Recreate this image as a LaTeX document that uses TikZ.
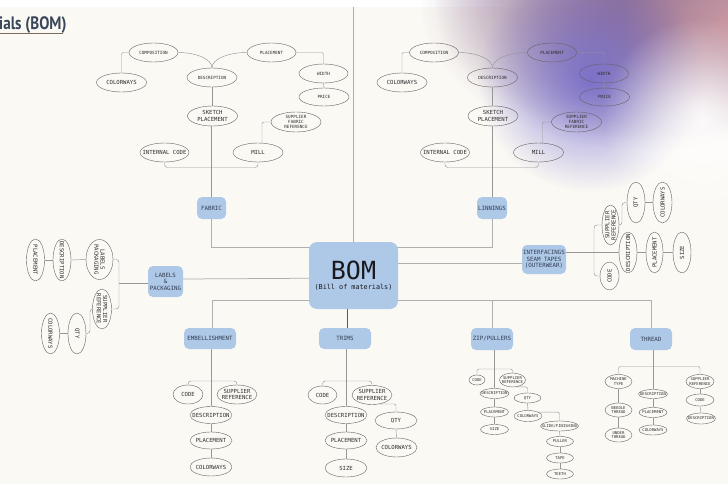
\documentclass[tikz,border=0pt]{standalone}
\usepackage{fontspec}
\setmainfont{PT Sans}
\newfontfamily\monof{DejaVu Sans Mono}
\usetikzlibrary{shapes.geometric,fadings}
\tikzfading[name=blobfade, inner color=transparent!0, outer color=transparent!100]
\pgfdeclarelayer{bgl}
\pgfdeclarelayer{edges}
\pgfsetlayers{bgl,edges,main}
\definecolor{bg}{RGB}{251,249,244}
\definecolor{boxc}{RGB}{174,200,232}
\definecolor{boxt}{RGB}{50,62,80}
\definecolor{bomt}{RGB}{25,25,30}
\definecolor{lnc}{RGB}{175,175,175}
\definecolor{subc}{RGB}{150,150,150}
\definecolor{elc}{RGB}{100,100,100}
\definecolor{etx}{RGB}{45,45,45}
\definecolor{titlec}{RGB}{58,70,90}
\definecolor{ulc}{RGB}{120,108,95}
\definecolor{mauve}{RGB}{145,115,150}
\definecolor{pinkc}{RGB}{200,150,160}
\definecolor{bluec}{RGB}{108,100,205}
\newcommand\fsA{\monof\fontsize{5.6}{6.3}\selectfont}
\newcommand\fsB{\monof\fontsize{4.3}{4.8}\selectfont}
\newcommand\fsC{\monof\fontsize{3.9}{4.4}\selectfont}
\newcommand\fsK{\monof\fontsize{5.8}{6.6}\selectfont}
\tikzset{
  cat/.style={fill=boxc, rounded corners=5pt, inner sep=0pt, align=center, text=boxt, font=\fsK},
  ov/.style={ellipse, draw=elc, line width=0.4pt, inner sep=0pt},
  lb/.style={align=center, text=etx, inner sep=0pt},
  mainln/.style={draw=lnc, line width=0.75pt},
  sub/.style={draw=subc, line width=0.45pt, rounded corners=2pt},
}
\newcommand\EL[6]{\node[ov, minimum width=#3, minimum height=#4, label={[lb,font=#6]center:{#5}}] (#1) at (#2) {};}
\newcommand\ELR[7]{\node[ov, minimum width=#3, minimum height=#4, label={[lb,font=#6,rotate=#7]center:{#5}}] (#1) at (#2) {};}
\newcommand\fabtree[3]{%
\begin{scope}[xshift=#2]
\EL{#1comp}{153.5,52.5}{49}{19}{COMPOSITION}{\fsB}
\EL{#1plac}{271.5,52.5}{49}{19}{PLACEMENT}{\fsB}
\EL{#1colw}{121.5,82.5}{50}{19}{COLORWAYS}{\fsA}
\EL{#1desc}{212,77.5}{50}{19}{DESCRIPTION}{\fsB}
\EL{#1wid}{323.5,73.5}{49}{19}{WIDTH}{\fsB}
\EL{#1pri}{324,97}{50}{18}{PRICE}{\fsB}
\EL{#1sk}{212.5,116}{50}{20}{SKETCH\\PLACEMENT}{\fsA}
\EL{#1sup}{296,122}{50}{20}{SUPPLIER\\FABRIC\\REFERENCE}{\fsB}
\EL{#1ic}{164.5,152.5}{49}{19}{INTERNAL CODE}{\fsA}
\EL{#1mill}{258,152.5}{50}{19}{MILL}{\fsA}
\begin{pgfonlayer}{edges}
\draw[sub] (#3.north) -- (#3.north |- #1sk.south);
\draw[sub] (#1desc.south) -- (#1desc.south |- #1sk.north);
\draw[sub, rounded corners=3pt] (#1ic.south) |- (212,167.5) -| (#1mill.south);
\draw[sub] ([xshift=4pt]#1mill.north) |- (#1sup.west);
\draw[sub] (#1desc.north) .. controls (212,59) and (196,52.5) .. (#1comp.east);
\draw[sub] (#1desc.north) .. controls (212,59) and (228,52.5) .. (#1plac.west);
\draw[sub] (#1comp.west) -| (#1colw.north);
\draw[sub] (#1plac.east) -| (#1wid.north);
\draw[sub] (#1wid.south) -- (#1pri.north);
\end{pgfonlayer}
\end{scope}}
\begin{document}
\begin{tikzpicture}[x=1pt,y=-1pt]
\useasboundingbox (0,0) rectangle (728,484);
\begin{pgfonlayer}{bgl}
  \fill[bg] (0,0) rectangle (728,484);
  \fill[white] (0,0) rectangle (728,7);
  \begin{scope}
    \clip (0,0) rectangle (728,484);
    \fill[mauve, path fading=blobfade] (650,0) ellipse (230 and 150);
    \fill[mauve, path fading=blobfade] (655,0) ellipse (220 and 140);
    \fill[pinkc, path fading=blobfade] (728,25) circle (110);
    \fill[bluec, path fading=blobfade, opacity=0.8] (590,80) circle (112);
    \fill[white, path fading=blobfade, opacity=0.9] (702,118) circle (100);
  \end{scope}
\end{pgfonlayer}

% title
\node[anchor=base west, inner sep=0pt, text=titlec, font=\fontsize{18}{18}\selectfont\bfseries] (title) at (-1,30) {\scalebox{0.84}[1]{ials (BOM)}};
\draw[ulc, line width=1.1pt] (0,33.3) -- (63,33.3);

% category boxes
\node[cat, rounded corners=8pt, minimum width=89, minimum height=67] (bom) at (353.5,275.5) {};
\node[inner sep=0pt, align=center, text=bomt, font=\monof\fontsize{6.8}{9.7}\selectfont] (bomtitle) at (353.5,275.8) {{\fontsize{25}{25}\selectfont BOM}\\(Bill of materials)};
\node[cat, minimum width=29, minimum height=22] (fab) at (211.5,208) {FABRIC};
\node[cat, minimum width=30, minimum height=22] (lin) at (492,208) {LINNINGS};
\node[cat, minimum width=35, minimum height=31] (lab) at (165.5,281.5) {LABELS\\\&\\PACKAGING};
\node[cat, minimum width=44, minimum height=29] (int) at (544,259.5) {INTERFACINGS\\SEAM TAPES\\(OUTERWEAR)};
\node[cat, minimum width=52, minimum height=21] (emb) at (210,338.5) {EMBELLISHMENT};
\node[cat, minimum width=52, minimum height=21] (trm) at (345,338.5) {TRIMS};
\node[cat, minimum width=42, minimum height=22] (zip) at (492,339) {ZIP/PULLERS};
\node[cat, minimum width=42, minimum height=22] (thr) at (651,339) {THREAD};
\coordinate (topend) at (354,7);

\begin{pgfonlayer}{edges}
  \draw[mainln] (bom.north) -- (bom.north |- topend);
  \draw[mainln] (fab.south) |- (bom.center |- 0,247);
  \draw[mainln] (lin.south) |- (bom.center |- 0,247);
  \draw[mainln] (lab.east |- 0,279) -- (bom.center |- 0,278);
  \draw[mainln] (bom.center |- 0,263) -- (int.west |- 0,263);
  \draw[mainln] ([xshift=2pt]emb.north) |- (thr.north |- 0,300) -- (thr.north);
  \draw[mainln] (zip.north) -- (zip.north |- 0,300);
  \draw[draw=black!65, line width=0.75pt] ([xshift=2pt]trm.north) -- ([xshift=2pt]trm.north |- bom.south);
\end{pgfonlayer}

% fabric and linnings trees
\fabtree{f}{0}{fab}
\fabtree{l}{280.5}{lin}

% labels & packaging
\ELR{lp}{99.5,259.5}{27}{40}{LABELS\\PACKAGING}{\fsA}{-90}
\ELR{ld}{62,260}{18}{42}{DESCRIPTION}{\fsA}{-90}
\ELR{lpl}{35.5,260}{18}{42}{PLACEMENT}{\fsA}{-90}
\ELR{lsr}{102,309}{19}{40}{SUPPLIER\\REFERENCE}{\fsA}{-90}
\ELR{lq}{77,333.5}{18}{41}{QTY}{\fsA}{-90}
\ELR{lc}{50.5,333.5}{18}{41}{COLORWAYS}{\fsA}{-90}
\coordinate (lbr) at (119,283);
\begin{pgfonlayer}{edges}
  \draw[sub] (lab.west |- lbr) -- (lbr);
  \draw[sub, rounded corners=3pt] (lp.east) -| (lbr) |- (lsr.east);
  \draw[sub] (lp.west) -- (ld.east);
  \draw[sub] (ld.west) -- (lpl.east);
  \draw[sub, rounded corners=3pt] (lsr.west) -| (90,333.5) -- (lq.east);
  \draw[sub] (lq.west) -- (lc.east);
\end{pgfonlayer}

% interfacings
\ELR{is}{610.5,225}{17}{40}{SUPPLIER\\REFERENCE}{\fsA}{90}
\ELR{iq}{636,202.5}{18}{41}{QTY}{\fsA}{90}
\ELR{ic}{662.5,202.5}{19}{41}{COLORWAYS}{\fsA}{90}
\ELR{id}{628,252.5}{18}{41}{DESCRIPTION}{\fsA}{90}
\ELR{ip}{654.5,252.5}{17}{41}{PLACEMENT}{\fsA}{90}
\ELR{isz}{682,252.5}{18}{41}{SIZE}{\fsA}{90}
\ELR{ico}{609.5,276}{19}{28}{CODE}{\fsA}{90}
\coordinate (ibr) at (594,252.5);
\begin{pgfonlayer}{edges}
  \draw[sub] (int.east |- ibr) -- (id.west);
  \draw[sub, rounded corners=3pt] (is.west) -| (ibr) |- (ico.west);
  \draw[sub] (id.east) -- (ip.west);
  \draw[sub] (ip.east) -- (isz.west);
  \draw[sub, rounded corners=3pt] (is.east) -| (622,202.5) -- (iq.west);
  \draw[sub] (iq.east) -- (ic.west);
\end{pgfonlayer}

% embellishment
\EL{ec}{188,394.5}{30}{19}{CODE}{\fsA}
\EL{es}{237,394.5}{40}{19}{SUPPLIER\\REFERENCE}{\fsA}
\EL{ed}{211,415}{42}{17}{DESCRIPTION}{\fsA}
\EL{ep}{211,440.5}{42}{17}{PLACEMENT}{\fsA}
\EL{ecw}{211,467}{42}{18}{COLORWAYS}{\fsA}
\begin{pgfonlayer}{edges}
  \draw[sub] (emb.south -| ed.north) -- (ed.north);
  \draw[sub, rounded corners=3pt] (ec.north) |- (211,381) -| (es.north);
  \draw[sub] (ed.south) -- (ep.north);
  \draw[sub] (ep.south) -- (ecw.north);
\end{pgfonlayer}

% trims
\EL{tc}{322.5,395}{29}{18}{CODE}{\fsA}
\EL{ts}{372,395}{40}{19}{SUPPLIER\\REFERENCE}{\fsA}
\EL{td}{346,415}{42}{17}{DESCRIPTION}{\fsA}
\EL{tp}{346,440.5}{42}{17}{PLACEMENT}{\fsA}
\EL{tsz}{346,468}{42}{18}{SIZE}{\fsA}
\EL{tq}{396,420.5}{42}{17}{QTY}{\fsA}
\EL{tcw}{396.5,447.5}{41}{19}{COLORWAYS}{\fsA}
\begin{pgfonlayer}{edges}
  \draw[sub] (trm.south -| td.north) -- (td.north);
  \draw[sub, rounded corners=3pt] (tc.north) |- (346,381) -| (ts.north);
  \draw[sub] (td.south) -- (tp.north);
  \draw[sub] (tp.south) -- (tsz.north);
  \draw[sub] (ts.-50) -| (tq.north);
  \draw[sub] (tq.south) -- (tcw.north);
\end{pgfonlayer}

% zip/pullers
\EL{zc}{477,380}{16}{10}{CODE}{\fsC}
\EL{zs}{512.5,380}{26}{14}{SUPPLIER\\REFERENCE}{\fsC}
\EL{zd}{494.5,393.5}{29}{10}{DESCRIPTION}{\fsC}
\EL{zp}{494.5,412}{28}{10}{PLACEMENT}{\fsC}
\EL{zsz}{494.5,429.5}{28}{10}{SIZE}{\fsC}
\EL{zq}{527.5,398}{27}{10}{QTY}{\fsC}
\EL{zcw}{528,416}{28}{11}{COLORWAYS}{\fsC}
\EL{zsf}{559.5,426}{38}{10}{SLIDE/FINISHING}{\fsC}
\EL{zpu}{560,441.5}{27}{10}{PULLER}{\fsC}
\EL{zt}{560,458}{27}{10}{TAPE}{\fsC}
\EL{zte}{560,474}{27}{10}{TEETH}{\fsC}
\begin{pgfonlayer}{edges}
  \draw[sub] (zip.south -| zd.north) -- (zd.north);
  \draw[sub, rounded corners=2pt] (zc.north) |- (494.5,369) -| (zs.north);
  \draw[sub] (zd.south) -- (zp.north);
  \draw[sub] (zp.south) -- (zsz.north);
  \draw[sub] (zs.-60) -| (zq.north);
  \draw[sub] (zq.south) -- (zcw.north);
  \draw[sub] (zcw.20) -| (zsf.north);
  \draw[sub] (zsf.south) -- (zpu.north);
  \draw[sub] (zpu.south) -- (zt.north);
  \draw[sub] (zt.south) -- (zte.north);
\end{pgfonlayer}

% thread
\EL{hm}{618.5,381.5}{27}{14}{MACHINE\\TYPE}{\fsC}
\EL{hn}{618.5,410}{27}{14}{NEEDLE\\THREAD}{\fsC}
\EL{hu}{618.5,435}{27}{14}{UNDER\\THREAD}{\fsC}
\EL{hd}{653,394}{29}{9}{DESCRIPTION}{\fsC}
\EL{hp}{653,412.5}{28}{10}{PLACEMENT}{\fsC}
\EL{hc}{653,430}{28}{10}{COLORWAYS}{\fsC}
\EL{hs}{700,381.5}{28}{14}{SUPPLIER\\REFERENCE}{\fsC}
\EL{hco}{700,400}{28}{12}{CODE}{\fsC}
\EL{hd2}{701,418.5}{29}{11}{DESCRIPTION}{\fsC}
\begin{pgfonlayer}{edges}
  \draw[sub] (thr.south -| hd.north) -- (hd.north);
  \draw[sub, rounded corners=2pt] (hm.north) |- (653,366.5) -| (hs.north);
  \draw[sub] (hd.south) -- (hp.north);
  \draw[sub] (hp.south) -- (hc.north);
  \draw[sub] (hm.south) -- (hn.north);
  \draw[sub] (hn.south) -- (hu.north);
  \draw[sub] (hs.south) -- (hco.north);
  \draw[sub] (hco.south) -- (hd2.north);
\end{pgfonlayer}
\end{tikzpicture}
\end{document}
